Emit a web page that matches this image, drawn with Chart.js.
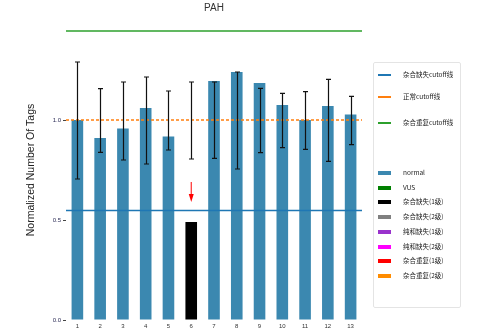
<!DOCTYPE html>
<html>
<head>
<meta charset="utf-8">
<script src="https://cdn.jsdelivr.net/npm/chart.js@4.4.0/dist/chart.umd.min.js"></script>
<style>
  html, body { margin: 0; padding: 0; background: #fff; }
  #wrap { position: relative; width: 486px; height: 332px; }
  #legend {
    position: absolute; left: 373px; top: 62px; width: 88px; height: 246px;
    border: 1px solid #e4e4e4; border-radius: 2px; box-sizing: border-box;
    font-family: "Noto Sans CJK SC", "Liberation Sans", sans-serif; font-size: 6.5px; color: #222;
  }
  .item { position: absolute; left: 0; height: 8px; width: 88px; }
  .item .line { position: absolute; left: 4px; top: 3px; width: 13px; height: 1.5px; }
  .item .patch { position: absolute; left: 4px; top: 2px; width: 13px; height: 4px; }
  .item span { position: absolute; left: 29px; top: -1px; white-space: nowrap; line-height: 9px; }
</style>
</head>
<body>
<div id="wrap">
  <canvas id="chart" width="486" height="332"></canvas>
  <div id="legend"></div>
</div>
<script>
// ---- datos ----
const labels = ["1", "2", "3", "4", "5", "6", "7", "8", "9", "10", "11", "12", "13"];
const ratioValues = [1.00, 0.91, 0.957, 1.06, 0.917, 0.49, 1.195, 1.24, 1.185, 1.075, 1.00, 1.07, 1.027];
const errLow  = [0.705, 0.838, 0.80, 0.78, 0.85, 0.805, 0.808, 0.755, 0.837, 0.862, 0.853, 0.793, 0.877];
const errHigh = [1.29, 1.157, 1.19, 1.215, 1.145, 1.19, 1.19, 1.24, 1.158, 1.133, 1.142, 1.203, 1.118];
const barClass = ["normal", "normal", "normal", "normal", "normal", "杂合缺失(1级)", "normal",
                  "normal", "normal", "normal", "normal", "normal", "normal"];
const yTicks = [0.0, 0.5, 1.0];

// cutoff lines
const cutoffNames = ["杂合缺失cutoff线", "正常cutoff线", "杂合重复cutoff线"];
const cutoffValues = [0.548, 1.0, 1.445];
const cutoffColors = ["#1f77b4", "#ff7f0e", "#2ca02c"];

// categorías de la leyenda
const classNames = ["normal", "VUS", "杂合缺失(1级)", "杂合缺失(2级)", "纯和缺失(1级)", "纯和缺失(2级)", "杂合重复(1级)", "杂合重复(2级)"];
const classColors = ["#3b88b0", "#008000", "#000000", "#808080", "#9932cc", "#ff00ff", "#ff0000", "#ff8c00"];

// flecha roja marcando la muestra anómala
const arrowIndex = 5;
const arrowFrom = 0.69;
const arrowTo = 0.59;

const colorOf = name => classColors[classNames.indexOf(name)];

// ---- plugin: título, líneas cutoff, barras de error, flecha ----
const overlays = {
  id: "overlays",
  afterDatasetsDraw(chart) {
    const { ctx, chartArea, scales: { x, y } } = chart;
    ctx.save();

    // cutoff lines
    cutoffValues.forEach((v, i) => {
      const py = y.getPixelForValue(v);
      ctx.beginPath();
      ctx.strokeStyle = cutoffColors[i];
      ctx.lineWidth = 1.5;
      ctx.setLineDash(i === 1 ? [3, 2] : []);
      ctx.moveTo(chartArea.left, py);
      ctx.lineTo(chartArea.right, py);
      ctx.stroke();
    });
    ctx.setLineDash([]);

    // error bars
    ctx.strokeStyle = "#111";
    ctx.lineWidth = 1.2;
    labels.forEach((lab, i) => {
      const px = Math.round(x.getPixelForValue(i)) + 0.5;
      const top = y.getPixelForValue(errHigh[i]);
      const bot = y.getPixelForValue(errLow[i]);
      ctx.beginPath();
      ctx.moveTo(px, top); ctx.lineTo(px, bot);
      ctx.moveTo(px - 2.5, top); ctx.lineTo(px + 2.5, top);
      ctx.moveTo(px - 2.5, bot); ctx.lineTo(px + 2.5, bot);
      ctx.stroke();
    });

    // arrow
    const ax = x.getPixelForValue(arrowIndex);
    const a0 = y.getPixelForValue(arrowFrom);
    const a1 = y.getPixelForValue(arrowTo);
    ctx.strokeStyle = "#ff0000";
    ctx.fillStyle = "#ff0000";
    ctx.lineWidth = 1;
    ctx.beginPath();
    ctx.moveTo(ax, a0); ctx.lineTo(ax, a1 - 6);
    ctx.stroke();
    ctx.beginPath();
    ctx.moveTo(ax - 2.5, a1 - 8);
    ctx.lineTo(ax + 2.5, a1 - 8);
    ctx.lineTo(ax, a1);
    ctx.closePath();
    ctx.fill();

    // título
    ctx.fillStyle = "#333";
    ctx.font = "10px 'Liberation Sans', sans-serif";
    ctx.textAlign = "center";
    ctx.textBaseline = "middle";
    ctx.fillText("PAH", (chartArea.left + chartArea.right) / 2, 8);

    ctx.restore();
  }
};

new Chart(document.getElementById("chart").getContext("2d"), {
  type: "bar",
  data: {
    labels: labels,
    datasets: [{
      data: ratioValues,
      backgroundColor: barClass.map(colorOf),
      categoryPercentage: 1,
      barPercentage: 0.51,
      borderWidth: 0
    }]
  },
  options: {
    responsive: false,
    animation: false,
    layout: { padding: { top: 20, right: 124, left: 0, bottom: 0 } },
    plugins: { legend: { display: false }, tooltip: { enabled: false } },
    scales: {
      x: {
        afterFit: s => { s.height = 12; },
        grid: { display: false, drawTicks: false },
        border: { display: false },
        ticks: { font: { size: 6, family: "Liberation Sans" }, color: "#333", padding: 3 }
      },
      y: {
        min: 0,
        max: 1.5,
        afterBuildTicks: axis => { axis.ticks = yTicks.map(v => ({ value: v })); },
        afterFit: s => { s.width = 66; },
        grid: { drawOnChartArea: false, tickLength: 3, color: "#444" },
        border: { display: false },
        ticks: {
          font: { size: 6, family: "Liberation Sans" }, color: "#2a2a55", padding: 2,
          callback: v => v.toFixed(1)
        },
        title: {
          display: true,
          text: "Normalized Number Of Tags",
          font: { size: 10.5, family: "Liberation Sans" },
          color: "#222",
          padding: { top: 25, bottom: 0 }
        }
      }
    }
  },
  plugins: [overlays]
});

// ---- leyenda HTML ----
const legend = document.getElementById("legend");
const lineTops = [8, 30, 56];
cutoffNames.forEach((name, i) => {
  legend.insertAdjacentHTML("beforeend",
    `<div class="item" style="top:${lineTops[i]}px"><div class="line" style="background:${cutoffColors[i]}"></div><span>${name}</span></div>`);
});
classNames.forEach((name, i) => {
  const top = 106 + i * 14.7;
  legend.insertAdjacentHTML("beforeend",
    `<div class="item" style="top:${top}px"><div class="patch" style="background:${classColors[i]}"></div><span>${name}</span></div>`);
});
</script>
</body>
</html>
